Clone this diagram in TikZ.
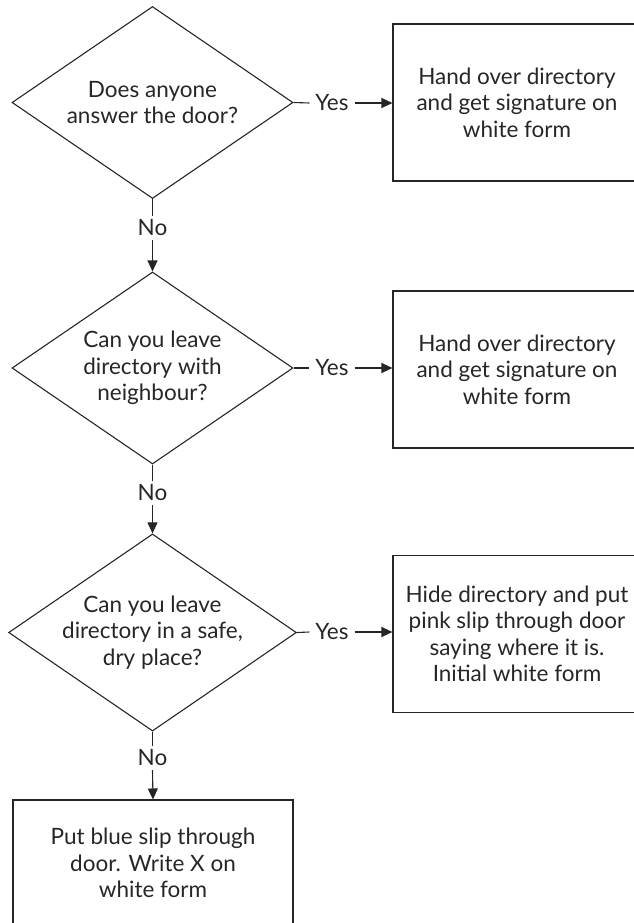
\documentclass[tikz,border=0pt]{standalone}
\usepackage{fontspec}
\setmainfont{Lato}
\usetikzlibrary{shapes.geometric,arrows.meta}
\tikzset{
  every node/.style={font=\fontsize{22.5}{26.5}\selectfont, text=black!85},
  decision/.style={shape=diamond, draw=black!85, line width=1.1pt, aspect=1.46,
    minimum width=281pt, minimum height=192pt, inner sep=0pt, align=center},
  actionbox/.style={shape=rectangle, draw=black!85, line width=1.1pt, minimum width=248pt,
    minimum height=157pt, inner sep=0pt, align=center},
  lbl/.style={inner sep=0pt, outer sep=6pt},
  conn/.style={draw=black!85, line width=1.1pt},
  arr/.style={conn, -{Triangle[length=11pt,width=10pt]}},
}
\begin{document}
\begin{tikzpicture}[x=1pt,y=-1pt]
\useasboundingbox (0,0) rectangle (634,923);
\clip (0,0) rectangle (634,923);
\node[decision] (d1) at (152.5,102.5) {Does anyone\\answer the door?};
\node[decision] (d2) at (152.5,368) {Can you leave\\directory with\\neighbour?};
\node[decision] (d3) at (152.5,632.5) {Can you leave\\directory in a safe,\\dry place?};
\node[actionbox] (b1) at (517,102.5) {Hand over directory\\and get signature on\\white form};
\node[actionbox] (b2) at (517,369.5) {Hand over directory\\and get signature on\\white form};
\node[actionbox] (b3) at (517,634) {Hide directory and put\\pink slip through door\\saying where it is.\\Initial white form};
\node[actionbox, minimum width=280pt, minimum height=126pt] (b4) at (153,863) {Put blue slip through\\door. Write X on\\white form};
\node[lbl] (y1) at (332,103) {Yes};
\node[lbl] (y2) at (332,368) {Yes};
\node[lbl] (y3) at (332,632) {Yes};
\node[lbl, outer sep=4pt] (n1) at (152.5,228) {No};
\node[lbl, outer sep=4pt] (n2) at (152.5,493) {No};
\node[lbl, outer sep=4pt] (n3) at (152.5,758) {No};
\draw[conn] (d1.east) -- (y1.west);
\draw[arr] (y1.east) -- (b1.west |- y1.east);
\draw[conn] (d2.east) -- (y2.west);
\draw[arr] (y2.east) -- (b2.west |- y2.east);
\draw[conn] (d3.east) -- (y3.west);
\draw[arr] (y3.east) -- (b3.west |- y3.east);
\draw[conn] (d1.south) -- (n1.north);
\draw[arr] (n1.south) -- (d2.north);
\draw[conn] (d2.south) -- (n2.north);
\draw[arr] (n2.south) -- (d3.north);
\draw[conn] (d3.south) -- (n3.north);
\draw[arr] (n3.south) -- (b4.north);
\end{tikzpicture}
\end{document}
